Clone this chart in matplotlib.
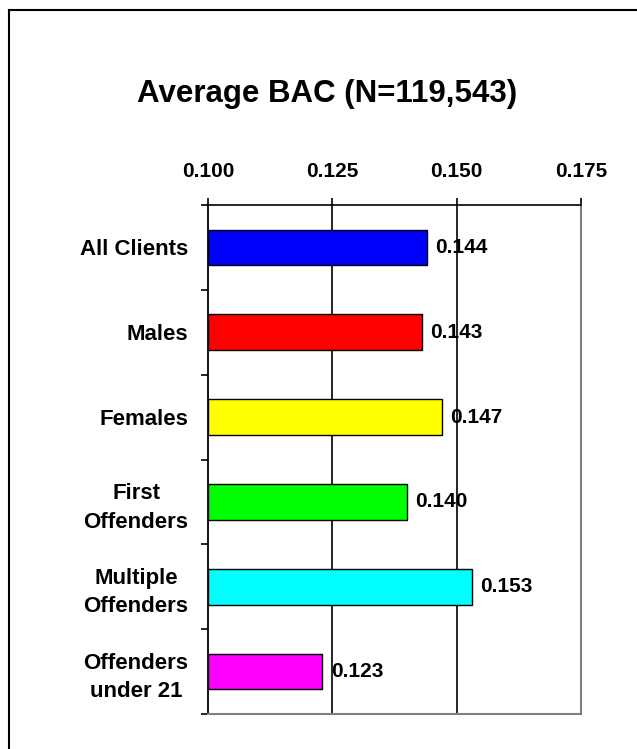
import matplotlib
matplotlib.use("Agg")
import matplotlib.pyplot as plt
from matplotlib.lines import Line2D
from matplotlib.ticker import FixedLocator

plt.rcParams['font.family'] = ['Liberation Sans', 'DejaVu Sans']

categories = ["All Clients", "Males", "Females", "First\nOffenders",
              "Multiple\nOffenders", "Offenders\nunder 21"]
bac_values = [0.144, 0.143, 0.147, 0.140, 0.153, 0.123]
bar_colors = ["#0000FF", "#FF0000", "#FFFF00", "#00FF00", "#00FFFF", "#FF00FF"]
x_ticks = [0.100, 0.125, 0.150, 0.175]
x_tick_labels = ["0.100", "0.125", "0.150", "0.175"]
title = "Average BAC (N=119,543)"

W, H = 637, 749
fig = plt.figure(figsize=(W / 100, H / 100), dpi=100)
ax = fig.add_axes([208 / W, 1 - 714 / H, 373 / W, 509 / H])

base = x_ticks[0]
ypos = list(range(len(categories)))
widths = [v - base for v in bac_values]
ax.barh(ypos, widths, left=base, height=0.42, color=bar_colors,
        edgecolor="black", linewidth=1.0, zorder=3)

for y, v in zip(ypos, bac_values):
    ax.annotate(f"{v:.3f}", xy=(v, y), xytext=(6, 0), textcoords="offset points",
                ha="left", va="center", fontsize=15, fontweight="bold", zorder=4)

ax.set_xlim(x_ticks[0], x_ticks[-1])
ax.set_ylim(len(categories) - 0.5, -0.5)

# value axis on top
ax.xaxis.tick_top()
ax.set_xticks(x_ticks)
ax.set_xticklabels(x_tick_labels, fontsize=15, fontweight="bold")
ax.tick_params(axis="x", which="major", direction="out", length=5, width=1.2,
               color="black", pad=12)

# category labels, with tick marks between categories
ax.set_yticks(ypos)
ax.set_yticklabels(categories, fontsize=16, fontweight="bold",
                   multialignment="center", linespacing=1.45)
ax.tick_params(axis="y", which="major", length=0, pad=14)
ax.yaxis.set_minor_locator(FixedLocator([i - 0.5 for i in range(len(categories) + 1)]))
ax.tick_params(axis="y", which="minor", direction="out", length=5, width=1.2,
               color="black")

for gx in x_ticks[1:-1]:
    ax.axvline(gx, color="black", linewidth=1.2, zorder=1)

ax.spines["left"].set_color("black")
ax.spines["left"].set_linewidth(1.3)
ax.spines["top"].set_color("black")
ax.spines["top"].set_linewidth(1.2)
ax.spines["right"].set_color("#808080")
ax.spines["right"].set_linewidth(1.5)
ax.spines["bottom"].set_color("#808080")
ax.spines["bottom"].set_linewidth(1.5)

fig.text(0.513, 1 - 94 / H, title, ha="center", va="center",
         fontsize=22.5, fontweight="bold")

# outer frame (top and left edges)
fx, fy = 9 / W, 1 - 10 / H
fig.add_artist(Line2D([fx, 1.0], [fy, fy], transform=fig.transFigure,
                      color="black", linewidth=1.5))
fig.add_artist(Line2D([fx, fx], [fy, 0.0], transform=fig.transFigure,
                      color="black", linewidth=1.5))

fig.savefig("out.png", dpi=100, facecolor="white")
